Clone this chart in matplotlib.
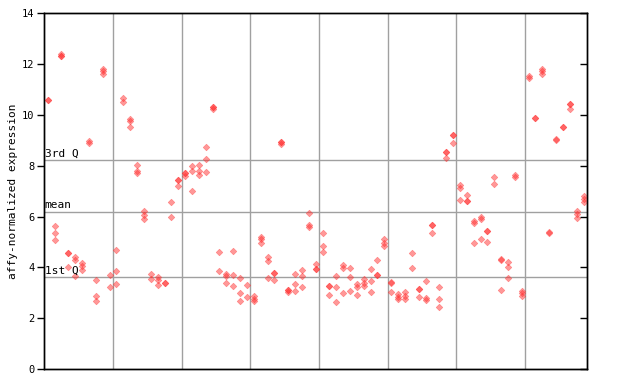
import matplotlib
matplotlib.use("Agg")
import matplotlib.pyplot as plt
import numpy as np

# expression values per sample (repeated value = overlapping replicates)
sample_values = [
    [10.59, 10.59], [5.65, 5.37, 5.07], [12.39, 12.31, 12.31], [4.57, 4.57, 4.00],
    [4.43, 4.31, 3.68], [4.16, 4.04, 3.88], [8.98, 8.90], [3.49, 2.86, 2.66],
    [11.82, 11.72, 11.60], [3.72, 3.21],
    [4.67, 3.84, 3.33], [10.68, 10.50], [9.86, 9.77, 9.52], [8.02, 7.79, 7.70],
    [6.24, 6.08, 5.91], [3.76, 3.53], [3.61, 3.49, 3.29], [3.37, 3.37],
    [6.56, 6.00], [7.45, 7.45, 7.19],
    [7.72, 7.72, 7.59], [8.01, 7.81, 6.99], [8.05, 7.81, 7.62], [8.76, 8.25, 7.74],
    [10.30, 10.30, 10.22], [4.59, 3.84], [3.76, 3.65, 3.37], [4.63, 3.72, 3.25],
    [3.57, 2.98, 2.66], [3.29, 2.82],
    [2.86, 2.75, 2.66], [5.20, 5.10, 4.97], [4.43, 4.24, 3.57], [3.79, 3.79, 3.49],
    [8.95, 8.95, 8.87], [3.13, 3.13, 3.02], [3.76, 3.33, 3.09], [3.88, 3.68, 3.21],
    [6.16, 5.69, 5.61], [4.12, 3.92, 3.92],
    [5.37, 4.86, 4.59], [3.25, 3.25, 2.90], [3.68, 3.21, 2.62], [4.08, 3.96, 2.98],
    [3.96, 3.61, 3.09], [3.33, 3.21, 2.90], [3.53, 3.37, 3.25], [3.92, 3.45, 3.02],
    [4.31, 3.72, 3.72], [5.10, 4.98, 4.86],
    [3.41, 3.37, 3.05], [2.94, 2.84, 2.74], [3.02, 2.88, 2.74], [4.55, 3.96],
    [3.17, 3.17, 2.82], [3.45, 2.78, 2.70], [5.68, 5.68, 5.34], [3.21, 2.74, 2.43],
    [8.54, 8.54, 8.32], [9.20, 9.20, 8.91],
    [7.24, 7.14, 6.67], [6.87, 6.62, 6.62], [5.83, 5.75, 4.98], [5.99, 5.91, 5.10],
    [5.44, 5.44, 5.02], [7.58, 7.30], [4.35, 4.31, 3.13], [4.20, 4.00, 3.57],
    [7.62, 7.55], [3.09, 2.98, 2.86],
    [11.55, 11.47], [9.88, 9.88], [11.82, 11.72, 11.60], [5.41, 5.35],
    [9.06, 9.00], [9.54, 9.54], [10.43, 10.43, 10.24], [6.22, 6.09, 5.96],
    [6.83, 6.71, 6.59],
]
group_size = 10
q1_value = 3.62
mean_value = 6.20
q3_value = 8.22
y_ticks = [0, 2, 4, 6, 8, 10, 12, 14]

font = "DejaVu Sans Mono"
n = len(sample_values)

fig = plt.figure(figsize=(6.4, 3.84), dpi=100)
ax = fig.add_axes([0.0692, 0.039, 0.8480, 0.926])

# group separators and quartile lines
for b in np.arange(group_size - 0.5, n - 1, group_size):
    ax.axvline(b, color="#a0a0a0", lw=1, zorder=1)
for v in (q1_value, mean_value, q3_value):
    ax.axhline(v, color="#a0a0a0", lw=1, zorder=1)

for i, vals in enumerate(sample_values):
    ax.plot([i] * len(vals), vals, linestyle="none", marker="D", markersize=3.4,
            markerfacecolor="#ff3333", markeredgecolor="#ff3333", markeredgewidth=0.4,
            alpha=0.5, zorder=3)

ax.set_xlim(-0.5, n - 0.5)
ax.set_ylim(0, 14)
ax.set_xticks([])
ax.set_yticks(y_ticks)
ax.set_yticklabels([str(t) for t in y_ticks], fontfamily=font, fontsize=7.5)
ax.tick_params(axis="y", which="both", left=True, right=True, direction="out",
               length=5, width=1, pad=2)
ax.yaxis.set_ticks_position("left")

# right-hand inward ticks without labels
ax2 = ax.twinx()
ax2.set_ylim(0, 14)
ax2.set_yticks(y_ticks)
ax2.set_yticklabels([])
ax2.tick_params(axis="y", direction="in", length=5, width=1)

for spine in list(ax.spines.values()) + list(ax2.spines.values()):
    spine.set_linewidth(1)
    spine.set_color("black")

for v, label in ((q3_value, "3rd Q"), (mean_value, "mean"), (q1_value, "1st Q")):
    ax.text(-0.45, v + 0.05, label, fontfamily=font, fontsize=8, va="bottom", ha="left", zorder=4)

ax.set_ylabel("affy-normalized expression", fontfamily=font, fontsize=8, labelpad=3)

fig.savefig("out.png", dpi=100)
